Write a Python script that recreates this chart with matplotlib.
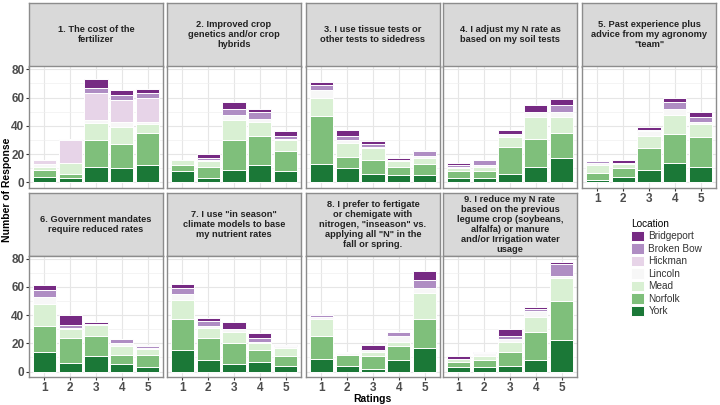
"""
Stacked bar facets: factor ratings by location.
"""

import matplotlib
matplotlib.use('Agg')
import matplotlib.pyplot as plt
from matplotlib.patches import Patch
import numpy as np

plt.rcParams['font.family'] = ['Liberation Sans', 'DejaVu Sans']

ratings = [1, 2, 3, 4, 5]

titles = [
    '1. The cost of the\nfertilizer',
    '2. Improved crop\ngenetics and/or crop\nhybrids',
    '3. I use tissue tests or\nother tests to sidedress',
    '4. I adjust my N rate as\nbased on my soil tests',
    '5. Past experience plus\nadvice from my agronomy\n"team"',
    '6. Government mandates\nrequire reduced rates',
    '7. I use "in season"\nclimate models to base\nmy nutrient rates',
    '8. I prefer to fertigate\nor chemigate with\nnitrogen, "inseason" vs.\napplying all "N" in the\nfall or spring.',
    '9. I reduce my N rate\nbased on the previous\nlegume crop (soybeans,\nalfalfa) or manure\nand/or Irrigation water\nusage',
]

# counts per panel (rows) and rating (columns)
york = [[4, 3, 11, 10, 12], [8, 3, 9, 12, 8], [13, 10, 6, 5, 5],
        [3, 3, 6, 11, 17], [2, 4, 9, 14, 11], [14, 6, 11, 5, 3],
        [15, 8, 5, 7, 4], [9, 4, 2, 8, 17], [3, 3, 4, 8, 22]]
norfolk = [[5, 3, 19, 17, 23], [4, 8, 21, 21, 14], [34, 8, 10, 6, 8],
           [5, 5, 19, 20, 18], [5, 6, 15, 20, 21], [18, 18, 14, 7, 9],
           [22, 16, 15, 8, 7], [16, 8, 9, 10, 20], [4, 5, 10, 20, 28]]
mead = [[2, 8, 12, 12, 6], [4, 4, 14, 10, 8], [13, 10, 8, 4, 4],
        [2, 3, 7, 15, 11], [5, 3, 9, 14, 9], [16, 6, 8, 6, 4],
        [14, 7, 8, 5, 6], [12, 0, 3, 3, 19], [2, 3, 7, 11, 16]]
lincoln = [[2, 0, 2, 4, 2], [0, 1, 4, 2, 1], [5, 2, 1, 1, 2],
           [1, 1, 2, 4, 4], [2, 1, 3, 4, 2], [5, 1, 1, 2, 1],
           [4, 1, 2, 1, 1], [2, 1, 1, 4, 3], [0, 2, 2, 4, 2]]
hickman = [[3, 16, 19, 15, 17], [0, 0, 0, 0, 0], [0, 0, 0, 0, 0],
           [0, 0, 0, 0, 0], [0, 0, 0, 0, 0], [0, 0, 0, 0, 0],
           [0, 0, 0, 0, 0], [0, 0, 0, 0, 0], [0, 0, 0, 0, 0]]
broken_bow = [[0, 1, 4, 4, 3], [0, 1, 4, 5, 2], [4, 3, 2, 0, 3],
              [1, 4, 0, 0, 5], [1, 0, 1, 5, 3], [5, 2, 0, 3, 1],
              [4, 4, 0, 3, 0], [1, 1, 0, 3, 6], [0, 0, 2, 1, 8]]
bridgeport = [[0, 0, 6, 3, 3], [0, 3, 5, 2, 3], [2, 4, 2, 1, 1],
              [2, 0, 3, 5, 4], [0, 2, 2, 3, 4], [3, 7, 1, 0, 1],
              [3, 2, 5, 3, 1], [1, 0, 4, 0, 6], [2, 1, 5, 2, 2]]

locations = ['Bridgeport', 'Broken Bow', 'Hickman', 'Lincoln', 'Mead', 'Norfolk', 'York']
colors = ['#762a83', '#af8dc3', '#e7d4e8', '#f7f7f7', '#d9f0d3', '#7fbf7b', '#1b7837']

# bottom-up stacking order
stack = [york, norfolk, mead, lincoln, hickman, broken_bow, bridgeport]
stack_colors = colors[::-1]

W, H = 720, 405
fig = plt.figure(figsize=(W / 100, H / 100), dpi=100)
fig.patch.set_facecolor('white')


def px_axes(x0, y0, w, h):
    return fig.add_axes([x0 / W, 1 - (y0 + h) / H, w / W, h / H])


col_left = [29, 167, 306, 443, 582]
panel_w = 134
rows = [(3, 66.5, 188), (193, 256, 377)]
border = '#8c8c8c'

for i, title in enumerate(titles):
    r, c = divmod(i, 5)
    s_top, p_top, p_bot = rows[r]

    # strip
    sax = px_axes(col_left[c], s_top, panel_w, p_top - s_top)
    sax.set_facecolor('#d9d9d9')
    sax.set_xticks([])
    sax.set_yticks([])
    for sp in sax.spines.values():
        sp.set_color(border)
        sp.set_linewidth(1.0)
    sax.text(0.5, 0.5, title, ha='center', va='center', fontsize=6.7,
             fontweight='bold', color='#222222', linespacing=1.17,
             transform=sax.transAxes)

    # panel
    ax = px_axes(col_left[c], p_top, panel_w, p_bot - p_top)
    x = np.arange(1, 6)
    bottom = np.zeros(5)
    for vals, col in zip(stack, stack_colors):
        v = np.array(vals[i], dtype=float)
        ax.bar(x, v, 0.9, bottom=bottom, color=col, edgecolor='white',
               linewidth=0.7, zorder=3)
        bottom += v

    ax.set_xlim(0.4, 5.6)
    ax.set_ylim(-3.9, 81.9)
    ax.set_yticks([0, 20, 40, 60, 80])
    ax.set_yticks([10, 30, 50, 70], minor=True)
    ax.set_xticks(x)
    ax.set_xticklabels([str(v) for v in ratings])
    ax.grid(True, which='major', color='#e6e6e6', linewidth=0.8, zorder=0)
    ax.grid(True, which='minor', axis='y', color='#f0f0f0', linewidth=0.5, zorder=0)
    ax.set_axisbelow(True)
    for sp in ax.spines.values():
        sp.set_color(border)
        sp.set_linewidth(1.0)
    ax.tick_params(which='minor', length=0)
    ax.tick_params(which='major', length=2.5, color='#333333', width=0.8,
                   labelsize=8.5, labelcolor='#4d4d4d', pad=0.8)
    for lab in ax.get_xticklabels() + ax.get_yticklabels():
        lab.set_fontweight('bold')

    if c != 0:
        ax.tick_params(axis='y', left=False, labelleft=False)
    if not (r == 1 or i == 4):
        ax.tick_params(axis='x', bottom=False, labelbottom=False)

fig.text(7 / W, 1 - 190 / H, 'Number of Response', rotation=90, ha='center',
         va='center', fontsize=7.5, fontweight='bold', color='black')
fig.text(372 / W, 1 - 398.5 / H, 'Ratings', ha='center', va='center',
         fontsize=7.5, fontweight='bold', color='black')

handles = [Patch(facecolor=col, edgecolor='white', linewidth=0.7) for col in colors]
leg = fig.legend(handles, locations, title='Location', loc='upper left',
                 bbox_to_anchor=(627 / W, 1 - 215 / H), frameon=False,
                 fontsize=7.2, title_fontsize=7.2, handlelength=1.25,
                 handleheight=1.25, labelspacing=0.18, handletextpad=0.5,
                 borderaxespad=0)
leg._legend_box.align = 'left'
for t in leg.get_texts():
    t.set_color('#333333')

plt.savefig('out.png', dpi=100, facecolor='white')
plt.close()
